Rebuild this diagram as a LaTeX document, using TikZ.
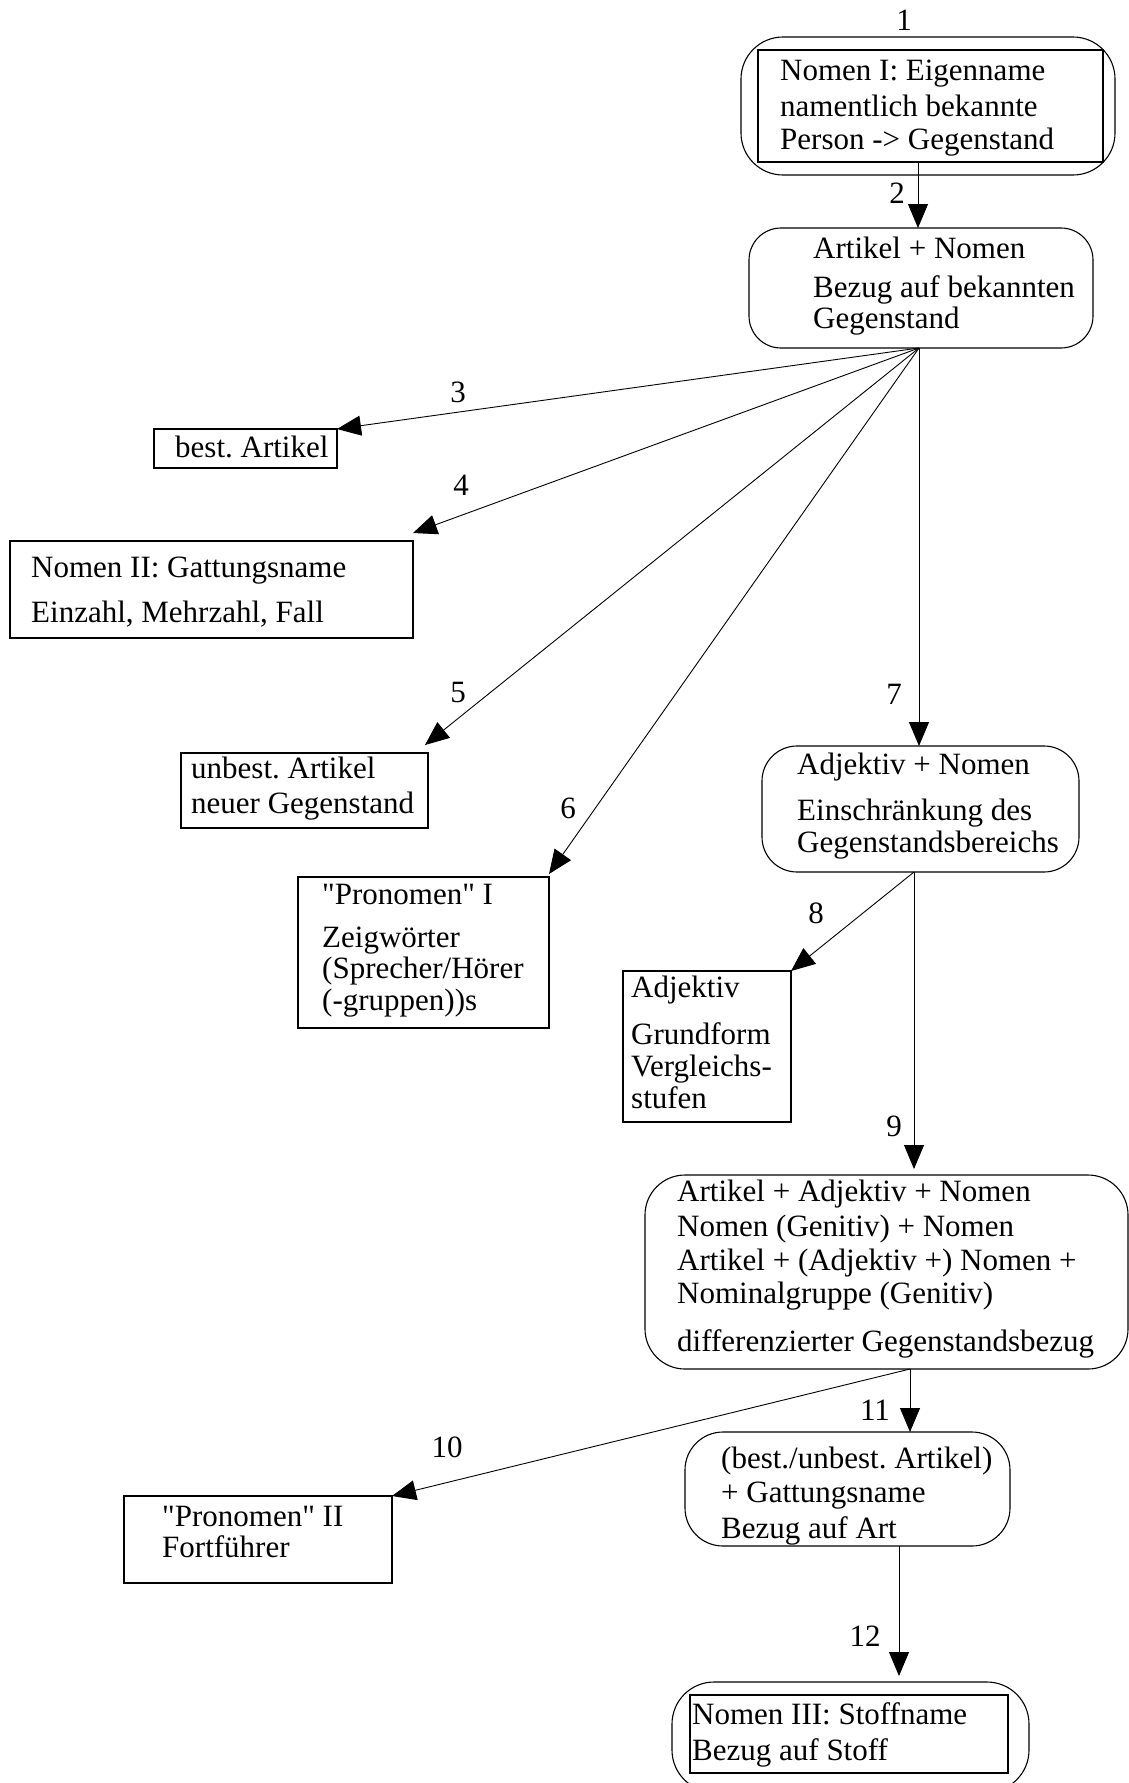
\documentclass[tikz,border=0pt]{standalone}
\usepackage{fontspec}
\setmainfont{Liberation Serif}[Ligatures=TeXOff]
\usetikzlibrary{arrows.meta,calc}
\frenchspacing
\begin{document}
\begin{tikzpicture}[x=1pt,y=-1pt,
  font=\fontsize{31}{34}\selectfont\frenchspacing,
  sq/.style={draw,line width=1.1pt,inner sep=0pt,outer sep=0pt},
  rnd/.style={sq,rounded corners=#1},
  txt/.style={anchor=base west,align=left,inner sep=0pt},
  num/.style={inner sep=0pt},
  arr/.style={line width=0.9pt,-{Triangle[length=24pt,width=20pt]}}]
\useasboundingbox (0,0) rectangle (1129,1783);
\clip (0,0) rectangle (1129,1783);

% boxes
\node[rnd=42,minimum width=374pt,minimum height=138pt] (b1o) at (928,106) {};
\node[sq,minimum width=345pt,minimum height=112pt] (b1i) at (930.5,106) {};
\node[rnd=32,minimum width=344pt,minimum height=120pt] (b2) at (921,288) {};
\node[sq,minimum width=183pt,minimum height=39pt] (b3) at (245.5,448.5) {};
\node[sq,minimum width=403pt,minimum height=97pt] (b4) at (211.5,589.5) {};
\node[sq,minimum width=247pt,minimum height=75pt] (b5) at (304.5,790.5) {};
\node[sq,minimum width=251pt,minimum height=151pt] (b6) at (423.5,952.5) {};
\node[rnd=35,minimum width=317pt,minimum height=126pt] (b7) at (920.5,809) {};
\node[sq,minimum width=168pt,minimum height=151pt] (b8) at (707,1046.5) {};
\node[rnd=40,minimum width=483pt,minimum height=194pt] (b9) at (886.5,1272) {};
\node[sq,minimum width=268pt,minimum height=87pt] (b10) at (258,1539.5) {};
\node[rnd=38,minimum width=325pt,minimum height=114pt] (b11) at (847.5,1489) {};
\node[rnd=42,minimum width=357pt,minimum height=110pt] (b12o) at (850.5,1737) {};
\node[sq,minimum width=318pt,minimum height=78pt] (b12i) at (849,1734) {};

% texts (anchored at the baseline of the last line)
\node[txt] (t1) at (780,149) {Nomen I: Eigenname\\[2.7pt]namentlich bekannte\\[-1.7pt]Person -> Gegenstand};
\node[txt] (t2) at (813,328) {Artikel + Nomen\\[5pt]Bezug auf bekannten\\[-3pt]Gegenstand};
\node[txt] (t3) at (175,457) {best. Artikel};
\node[txt] (t4) at (31,622) {Nomen II: Gattungsname\\[11pt]Einzahl, Mehrzahl, Fall};
\node[txt] (t5) at (191,813) {unbest. Artikel\\[1pt]neuer Gegenstand};
\node[txt] (t6) at (322,1010) {"Pronomen" I\\[9pt]Zeigwörter\\[-3pt](Sprecher/Hörer\\[-2pt](-gruppen))s};
\node[txt] (t7) at (797,852) {Adjektiv + Nomen\\[12pt]Einschränkung des\\[-2pt]Gegenstandsbereichs};
\node[txt] (t8) at (631,1108) {Adjektiv\\[13pt]Grundform\\[-2pt]Vergleichs-\\[-2pt]stufen};
\node[txt] (t9) at (677,1351) {Artikel + Adjektiv + Nomen\\[1pt]Nomen (Genitiv) + Nomen\\[0pt]Artikel + (Adjektiv +) Nomen +\\[-1pt]Nominalgruppe (Genitiv)\\[14pt]differenzierter Gegenstandsbezug};
\node[txt] (t10) at (162,1557) {"Pronomen" II\\[-3pt]Fortführer};
\node[txt] (t11) at (721,1538) {(best./unbest. Artikel)\\[0pt]+ Gattungsname\\[2pt]Bezug auf Art};
\node[txt] (t12) at (692,1760) {Nomen III: Stoffname\\[2pt]Bezug auf Stoff};

% numbers
\node[num] (l1) at (904,20) {1};
\node[num] (l2) at (897,193) {2};
\node[num] (l3) at (458,392) {3};
\node[num] (l4) at (461,485) {4};
\node[num] (l5) at (458,692) {5};
\node[num] (l6) at (568,808) {6};
\node[num] (l7) at (894,694) {7};
\node[num] (l8) at (816,913) {8};
\node[num] (l9) at (894,1126) {9};
\node[num] (l10) at (447,1447) {10};
\node[num] (l11) at (875,1410) {11};
\node[num] (l12) at (865,1636) {12};

% connector points
\coordinate (o1) at ($(b1i.south)+(-12.5,0)$);
\coordinate (o2) at ($(b2.south)+(-2,0)$);
\coordinate (o7) at ($(b7.south)+(-6.5,0)$);
\coordinate (o9) at ($(b9.south)+(23.5,0)$);
\coordinate (o11) at ($(b11.south)+(51.5,0)$);

% connectors
\draw[arr] (o1) -- (o1 |- b2.north);
\draw[arr] (o2) -- (b3.north east);
\draw[arr] (o2) -- ($(b4.north east)+(0,-8)$);
\draw[arr] (o2) -- ($(b5.north east)+(-3,-8)$);
\draw[arr] (o2) -- ($(b6.north east)+(0,-3)$);
\draw[arr] (o2) -- (o2 |- b7.north);
\draw[arr] (o7) -- (b8.north east);
\draw[arr] (o7) -- ($(o7 |- b9.north)+(0,-6)$);
\draw[arr] (o9) -- (b10.north east);
\draw[arr] (o9) -- (o9 |- b11.north);
\draw[arr] (o11) -- ($(o11 |- b12o.north)+(0,-6)$);
\end{tikzpicture}
\end{document}
